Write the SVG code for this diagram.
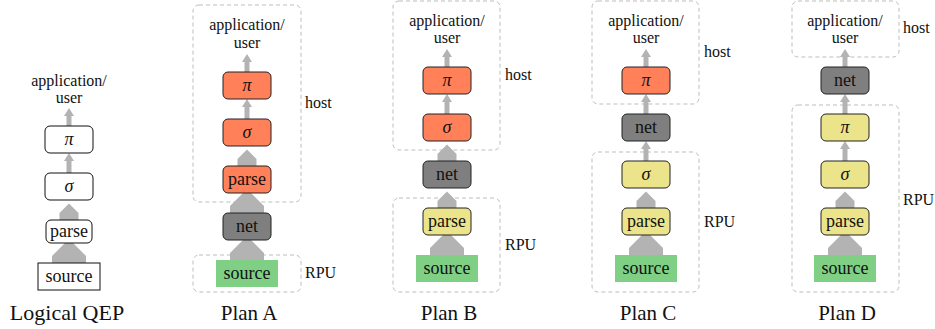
<svg xmlns="http://www.w3.org/2000/svg" width="935" height="329" viewBox="0 0 935 329" font-family="Liberation Serif, serif">
<defs>
<path id="thin" d="M-2.5 0V-10H-5L0 -18L5 -10H2.5V0Z"/>
<path id="thin20" d="M-2.5 0V-12H-5L0 -20L5 -12H2.5V0Z"/>
<path id="med" d="M-9.5 0V-7L0 -16.5L9.5 -7V0Z"/>
<path id="big" d="M-17 0V-7L0 -24L17 -7V0Z"/>
</defs>

<g id="regions" fill="none" stroke="#bdbdbd" stroke-width="1" stroke-dasharray="4 3">
<rect x="193" y="5" width="108" height="197" rx="6"/>
<rect x="193" y="255" width="108" height="37" rx="6"/>
<rect x="393" y="1" width="107" height="149" rx="6"/>
<rect x="393" y="198" width="107" height="94" rx="6"/>
<rect x="592" y="1" width="107" height="103" rx="6"/>
<rect x="592" y="152" width="107" height="140" rx="6"/>
<rect x="792" y="1" width="107" height="56" rx="6"/>
<rect x="792" y="105" width="107" height="187" rx="6"/>
</g>
<g id="region-labels" font-family="Liberation Serif, serif" font-size="16" fill="#111">
<text x="305" y="108">host</text>
<text x="305" y="278">RPU</text>
<text x="505" y="80">host</text>
<text x="505" y="250">RPU</text>
<text x="704" y="57">host</text>
<text x="704" y="227">RPU</text>
<text x="903" y="33">host</text>
<text x="903" y="205">RPU</text>
</g>

<g id="connectors" fill="#b3b3b3">
<use href="#thin" x="69" y="126"/>
<use href="#thin20" x="69" y="173"/>
<use href="#med" x="69" y="220"/>
<use href="#big" x="69" y="263"/>

<use href="#thin" x="247" y="72"/>
<use href="#thin20" x="247" y="119"/>
<use href="#med" x="247" y="166"/>
<use href="#big" x="247" y="213"/>
<use href="#big" x="247" y="260"/>

<use href="#thin" x="447" y="67"/>
<use href="#thin20" x="447" y="114"/>
<use href="#med" x="447" y="161"/>
<use href="#med" x="447" y="208"/>
<use href="#big" x="447" y="255"/>

<use href="#thin" x="646" y="67"/>
<use href="#thin20" x="646" y="114"/>
<use href="#thin20" x="646" y="161"/>
<use href="#med" x="646" y="208"/>
<use href="#big" x="646" y="255"/>

<use href="#thin" x="845" y="67"/>
<use href="#thin20" x="845" y="114"/>
<use href="#thin20" x="845" y="161"/>
<use href="#med" x="845" y="208"/>
<use href="#big" x="845" y="255"/>
</g>

<g font-family="Liberation Serif, serif" fill="#111" text-anchor="middle">
<!-- Logical QEP -->
<g id="lq-app" font-size="16"><text x="69" y="86">application/</text><text x="69" y="103">user</text></g>
<g id="lq-pi"><rect x="45" y="126" width="48" height="27" rx="5" fill="#fff" stroke="#111"/><text x="69" y="145" font-size="18" font-style="italic">π</text></g>
<g id="lq-sigma"><rect x="45" y="173" width="48" height="27" rx="5" fill="#fff" stroke="#111"/><text x="69" y="192" font-size="18" font-style="italic">σ</text></g>
<g id="lq-parse"><rect x="46" y="220" width="46" height="23" rx="5" fill="#fff" stroke="#111"/><text x="69" y="237" font-size="18">parse</text></g>
<g id="lq-source"><rect x="38" y="263" width="62" height="27" fill="#fff" stroke="#111"/><text x="69" y="282" font-size="18">source</text></g>
<text x="67" y="320" font-size="22">Logical QEP</text>

<!-- Plan A -->
<g id="a-app" font-size="16"><text x="247" y="30">application/</text><text x="247" y="48">user</text></g>
<g id="a-pi"><rect x="223" y="72" width="48" height="27" rx="5" fill="#ff8059" stroke="#222"/><text x="247" y="91" font-size="18" font-style="italic">π</text></g>
<g id="a-sigma"><rect x="223" y="119" width="48" height="27" rx="5" fill="#ff8059" stroke="#222"/><text x="247" y="138" font-size="18" font-style="italic">σ</text></g>
<g id="a-parse"><rect x="223" y="166" width="48" height="27" rx="5" fill="#ff8059" stroke="#222"/><text x="247" y="185" font-size="18">parse</text></g>
<g id="a-net"><rect x="223" y="213" width="48" height="27" rx="5" fill="#7f7f7f" stroke="#222"/><text x="247" y="232" font-size="18">net</text></g>
<g id="a-source"><rect x="216" y="260" width="62" height="27" fill="#7fcf84"/><text x="247" y="279" font-size="18">source</text></g>
<text x="249" y="320" font-size="21">Plan A</text>

<!-- Plan B -->
<g id="b-app" font-size="16"><text x="447" y="26">application/</text><text x="447" y="43">user</text></g>
<g id="b-pi"><rect x="423" y="67" width="48" height="27" rx="5" fill="#ff8059" stroke="#222"/><text x="447" y="86" font-size="18" font-style="italic">π</text></g>
<g id="b-sigma"><rect x="423" y="114" width="48" height="27" rx="5" fill="#ff8059" stroke="#222"/><text x="447" y="133" font-size="18" font-style="italic">σ</text></g>
<g id="b-net"><rect x="423" y="161" width="48" height="27" rx="5" fill="#7f7f7f" stroke="#222"/><text x="447" y="180" font-size="18">net</text></g>
<g id="b-parse"><rect x="423" y="208" width="48" height="27" rx="5" fill="#ebe48a" stroke="#222"/><text x="447" y="227" font-size="18">parse</text></g>
<g id="b-source"><rect x="416" y="255" width="62" height="27" fill="#7fcf84"/><text x="447" y="274" font-size="18">source</text></g>
<text x="449" y="320" font-size="21">Plan B</text>

<!-- Plan C -->
<g id="c-app" font-size="16"><text x="646" y="26">application/</text><text x="646" y="43">user</text></g>
<g id="c-pi"><rect x="622" y="67" width="48" height="27" rx="5" fill="#ff8059" stroke="#222"/><text x="646" y="86" font-size="18" font-style="italic">π</text></g>
<g id="c-net"><rect x="622" y="114" width="48" height="27" rx="5" fill="#7f7f7f" stroke="#222"/><text x="646" y="133" font-size="18">net</text></g>
<g id="c-sigma"><rect x="622" y="161" width="48" height="27" rx="5" fill="#ebe48a" stroke="#222"/><text x="646" y="180" font-size="18" font-style="italic">σ</text></g>
<g id="c-parse"><rect x="622" y="208" width="48" height="27" rx="5" fill="#ebe48a" stroke="#222"/><text x="646" y="227" font-size="18">parse</text></g>
<g id="c-source"><rect x="615" y="255" width="62" height="27" fill="#7fcf84"/><text x="646" y="274" font-size="18">source</text></g>
<text x="648" y="320" font-size="21">Plan C</text>

<!-- Plan D -->
<g id="d-app" font-size="16"><text x="845" y="26">application/</text><text x="845" y="43">user</text></g>
<g id="d-net"><rect x="821" y="67" width="48" height="27" rx="5" fill="#7f7f7f" stroke="#222"/><text x="845" y="86" font-size="18">net</text></g>
<g id="d-pi"><rect x="821" y="114" width="48" height="27" rx="5" fill="#ebe48a" stroke="#222"/><text x="845" y="133" font-size="18" font-style="italic">π</text></g>
<g id="d-sigma"><rect x="821" y="161" width="48" height="27" rx="5" fill="#ebe48a" stroke="#222"/><text x="845" y="180" font-size="18" font-style="italic">σ</text></g>
<g id="d-parse"><rect x="821" y="208" width="48" height="27" rx="5" fill="#ebe48a" stroke="#222"/><text x="845" y="227" font-size="18">parse</text></g>
<g id="d-source"><rect x="814" y="255" width="62" height="27" fill="#7fcf84"/><text x="845" y="274" font-size="18">source</text></g>
<text x="847" y="320" font-size="21">Plan D</text>
</g>
</svg>
